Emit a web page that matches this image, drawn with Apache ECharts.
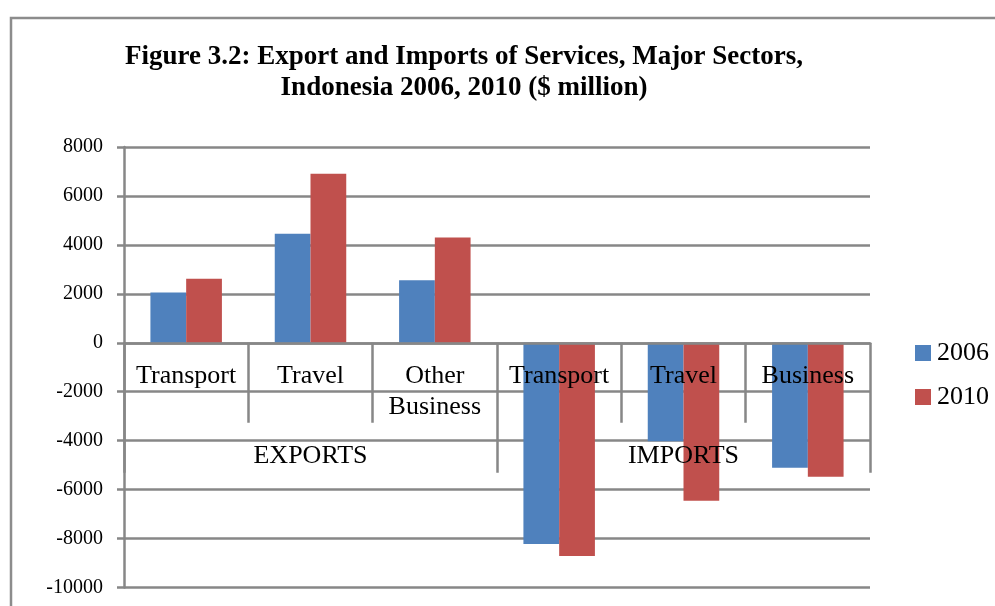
<!DOCTYPE html>
<html>
<head>
<meta charset="utf-8">
<script src="https://cdn.jsdelivr.net/npm/echarts@6/dist/echarts.min.js"></script>
<style>
  html, body { margin: 0; padding: 0; background: #ffffff; }
  #chart { width: 995px; height: 606px; }
</style>
</head>
<body>
<div id="chart"></div>
<script>
// Services trade by major sector, Indonesia ($ million)
const sectors = ['Transport', 'Travel', 'Other\nBusiness', 'Transport', 'Travel', 'Business'];
const groups = ['EXPORTS', 'IMPORTS'];
const seriesNames = ['2006', '2010'];
const values2006 = [2050, 4460, 2550, -8220, -4020, -5110];
const values2010 = [2620, 6910, 4300, -8710, -6460, -5470];
const yTicks = { min: -10000, max: 8000, interval: 2000 };
const titleLines = [
  'Figure 3.2: Export and Imports of Services, Major Sectors,',
  'Indonesia 2006, 2010 ($ million)'
];

const SERIF = '"Liberation Serif", "DejaVu Serif", serif';
const GRID_GRAY = '#878787';
const LINE_W = 2.5;

const chart = echarts.init(document.getElementById('chart'), null, { renderer: 'canvas' });

function categoryAxis(data, tickLength, labelMargin) {
  return {
    type: 'category',
    data: data,
    position: 'bottom',
    offset: 0,
    z: 5,
    axisLine: { show: true, onZero: false, lineStyle: { color: GRID_GRAY, width: LINE_W } },
    axisTick: { show: true, interval: 0, length: tickLength, lineStyle: { color: GRID_GRAY, width: LINE_W } },
    axisLabel: {
      interval: 0, margin: labelMargin, fontFamily: SERIF, fontSize: 26, lineHeight: 31, color: '#000000'
    },
    splitLine: { show: false }
  };
}

chart.setOption({
  backgroundColor: '#ffffff',
  animation: false,
  color: ['#4F81BD', '#C0504D'],
  graphic: [
    {
      type: 'rect',
      z: -10,
      shape: { x: 11, y: 18, width: 1200, height: 800 },
      style: { fill: 'none', stroke: '#8c8c8c', lineWidth: 2.5 }
    },
    {
      type: 'text',
      x: 464,
      y: 42,
      style: {
        text: titleLines.join('\n'),
        align: 'center',
        verticalAlign: 'top',
        font: 'bold 27px ' + SERIF,
        lineHeight: 31,
        fill: '#000000'
      }
    }
  ],
  legend: {
    orient: 'vertical',
    left: 915,
    top: 340,
    padding: 0,
    itemWidth: 16,
    itemHeight: 16,
    itemGap: 18,
    icon: 'rect',
    data: seriesNames,
    textStyle: { fontFamily: SERIF, fontSize: 26, color: '#000000', padding: [0, 0, 0, 1] }
  },
  grid: {
    left: 124, right: 125, top: 147, bottom: 18.5,
    containLabel: false,
    outerBoundsMode: 'none'
  },
  xAxis: [
    categoryAxis(sectors, 80, 18),
    Object.assign(categoryAxis(groups, 130, 98), { axisLine: { show: false, onZero: false } })
  ],
  yAxis: {
    type: 'value',
    min: yTicks.min,
    max: yTicks.max,
    interval: yTicks.interval,
    axisLine: { show: true, onZero: false, lineStyle: { color: GRID_GRAY, width: LINE_W } },
    axisTick: { show: true, length: 7, lineStyle: { color: GRID_GRAY, width: LINE_W } },
    axisLabel: {
      margin: 21, fontFamily: SERIF, fontSize: 20, color: '#000000',
      formatter: (v) => String(v)
    },
    splitLine: { show: true, lineStyle: { color: GRID_GRAY, width: LINE_W } }
  },
  series: [
    {
      name: seriesNames[0],
      type: 'bar',
      xAxisIndex: 0,
      data: values2006,
      barGap: '0%',
      barCategoryGap: '42.5%',
      itemStyle: { color: '#4F81BD' }
    },
    {
      name: seriesNames[1],
      type: 'bar',
      xAxisIndex: 0,
      data: values2010,
      barGap: '0%',
      barCategoryGap: '42.5%',
      itemStyle: { color: '#C0504D' }
    }
  ]
});

// Lift both category axes (line, ticks and labels) up to the value axis's zero level.
const zeroY = chart.convertToPixel({ yAxisIndex: 0 }, 0);
const floorY = chart.convertToPixel({ yAxisIndex: 0 }, yTicks.min);
const lift = zeroY - floorY;
chart.setOption({ xAxis: [{ offset: lift }, { offset: lift }] });
</script>
</body>
</html>
